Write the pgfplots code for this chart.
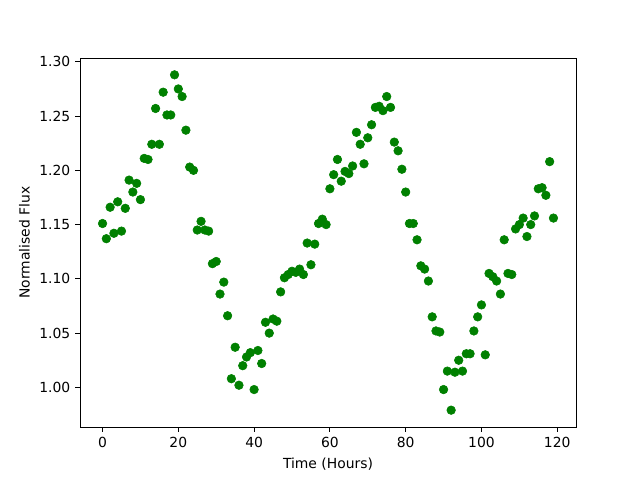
\documentclass[border=0pt]{standalone}
\usepackage{pgfplots}
\pgfplotsset{compat=1.18}
\usepackage{fontspec}
\setmainfont{DejaVu Sans}
\definecolor{mplgreen}{rgb}{0,0.5,0}
\begin{document}
\begin{tikzpicture}
\path[use as bounding box] (-57.6pt,-38.16pt) rectangle (403.2pt,307.44pt);
\begin{axis}[
  at={(0,0)}, anchor=south west,
  scale only axis, width=357.12pt, height=265.68pt,
  xmin=-5.95, xmax=124.95, ymin=0.9635, ymax=1.3035,
  xtick={0,20,40,60,80,100,120},
  ytick={1.00,1.05,1.10,1.15,1.20,1.25,1.30},
  yticklabel style={/pgf/number format/.cd,fixed,fixed zerofill,precision=2},
  /pgf/number format/assume math mode=true,
  tick align=outside, major tick length=3.5pt,
  tick style={line width=0.8pt, black},
  axis line style={line width=0.7pt},
  xtick pos=bottom, ytick pos=left,
  font=\fontsize{10}{12}\selectfont,
  ticklabel style={font=\fontsize{10}{12}\selectfont},
  xlabel={Time (Hours)}, ylabel={Normalised Flux},
  xlabel style={yshift=-0.5pt},
  scaled y ticks=false,
]
\addplot[only marks, mark=*, mark size=3.1pt, color=mplgreen, mark options={fill=mplgreen, draw=mplgreen, line width=0.4pt}] coordinates {
(0,1.151)(1,1.137)(2,1.166)(3,1.142)(4,1.171)(5,1.144)(6,1.165)(7,1.191)(8,1.180)(9,1.188)
(10,1.173)(11,1.211)(12,1.210)(13,1.224)(14,1.257)(15,1.224)(16,1.272)(17,1.251)(18,1.251)(19,1.288)
(20,1.275)(21,1.268)(22,1.237)(23,1.203)(24,1.200)(25,1.145)(26,1.153)(27,1.145)(28,1.144)(29,1.114)
(30,1.116)(31,1.086)(32,1.097)(33,1.066)(34,1.008)(35,1.037)(36,1.002)(37,1.020)(38,1.028)(39,1.032)
(40,0.998)(41,1.034)(42,1.022)(43,1.060)(44,1.050)(45,1.063)(46,1.061)(47,1.088)(48,1.101)(49,1.104)
(50,1.107)(51,1.106)(52,1.109)(53,1.104)(54,1.133)(55,1.113)(56,1.132)(57,1.151)(58,1.155)(59,1.150)
(60,1.183)(61,1.196)(62,1.210)(63,1.190)(64,1.199)(65,1.197)(66,1.204)(67,1.235)(68,1.224)(69,1.206)
(70,1.230)(71,1.242)(72,1.258)(73,1.259)(74,1.255)(75,1.268)(76,1.258)(77,1.226)(78,1.218)(79,1.201)
(80,1.180)(81,1.151)(82,1.151)(83,1.136)(84,1.112)(85,1.109)(86,1.098)(87,1.065)(88,1.052)(89,1.051)
(90,0.998)(91,1.015)(92,0.979)(93,1.014)(94,1.025)(95,1.015)(96,1.031)(97,1.031)(98,1.052)(99,1.065)
(100,1.076)(101,1.030)(102,1.105)(103,1.102)(104,1.098)(105,1.086)(106,1.136)(107,1.105)(108,1.104)(109,1.146)
(110,1.150)(111,1.156)(112,1.139)(113,1.150)(114,1.158)(115,1.183)(116,1.184)(117,1.177)(118,1.208)(119,1.156)
};
\end{axis}
\end{tikzpicture}
\end{document}
